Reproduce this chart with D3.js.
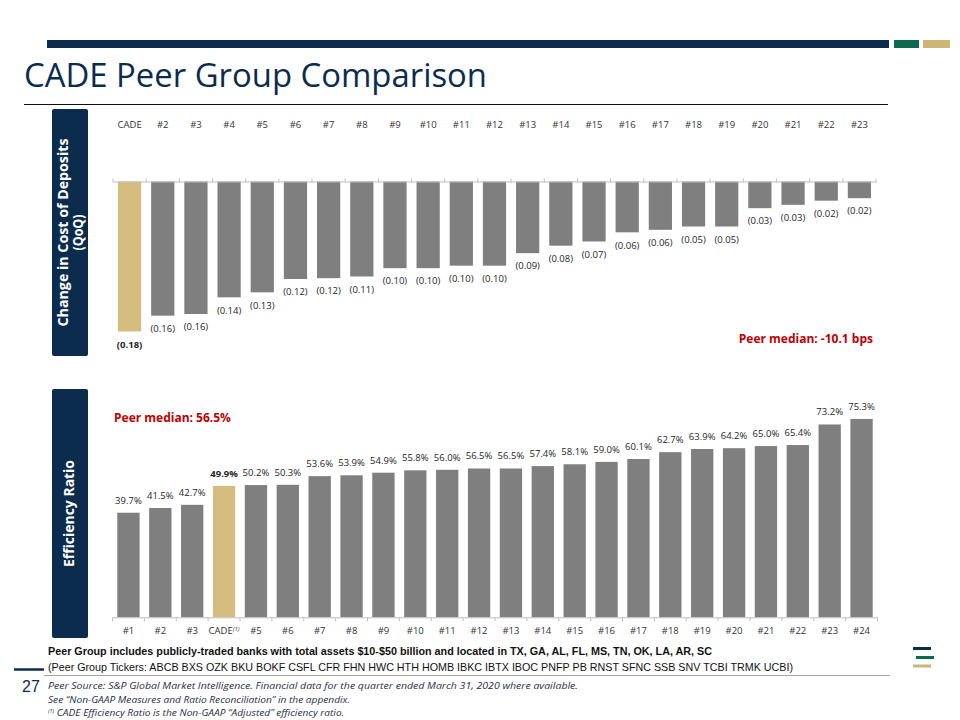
<!DOCTYPE html>
<html>
<head>
<meta charset="utf-8">
<script src="https://cdn.jsdelivr.net/npm/d3@7"></script>
<style>
  html, body { margin: 0; padding: 0; background: #fff; }
  svg { display: block; }
</style>
</head>
<body>
<svg id="chart" width="960" height="720"></svg>
<script>
// ---------- DATA ----------
const depositCategories = ["CADE","#2","#3","#4","#5","#6","#7","#8","#9","#10","#11","#12","#13","#14","#15","#16","#17","#18","#19","#20","#21","#22","#23"];
const depositValues = [-0.180,-0.161,-0.159,-0.139,-0.133,-0.117,-0.116,-0.114,-0.104,-0.104,-0.101,-0.101,-0.086,-0.077,-0.072,-0.061,-0.058,-0.054,-0.054,-0.032,-0.028,-0.023,-0.020];
const depositLabels = ["(0.18)","(0.16)","(0.16)","(0.14)","(0.13)","(0.12)","(0.12)","(0.11)","(0.10)","(0.10)","(0.10)","(0.10)","(0.09)","(0.08)","(0.07)","(0.06)","(0.06)","(0.05)","(0.05)","(0.03)","(0.03)","(0.02)","(0.02)"];

const effCategories = ["#1","#2","#3","CADE","#5","#6","#7","#8","#9","#10","#11","#12","#13","#14","#15","#16","#17","#18","#19","#20","#21","#22","#23","#24"];
const effValues = [39.7,41.5,42.7,49.9,50.2,50.3,53.6,53.9,54.9,55.8,56.0,56.5,56.5,57.4,58.1,59.0,60.1,62.7,63.9,64.2,65.0,65.4,73.2,75.3];

const highlightCategory = "CADE";
const depositMedianText = "Peer median: -10.1 bps";
const effMedianText = "Peer median: 56.5%";

// ---------- STYLE ----------
const NAVY = "#0c2c4e", GREEN = "#0b6a4f", GOLD = "#cdb673";
const BAR = "#7f7f7f", BAR_HI = "#d4bd7e", RED = "#c00000";
const FONT = "'Open Sans', 'Noto Sans', sans-serif";
const NARROW = "'Liberation Sans Narrow', 'Arial Narrow', 'Liberation Sans', sans-serif";

const svg = d3.select("#chart");

// ---------- HEADER ----------
svg.append("rect").attr("x", 47).attr("y", 40).attr("width", 842).attr("height", 8).attr("fill", NAVY);
svg.append("rect").attr("x", 894).attr("y", 40).attr("width", 25).attr("height", 8).attr("fill", GREEN);
svg.append("rect").attr("x", 923).attr("y", 40).attr("width", 27).attr("height", 8).attr("fill", GOLD);
svg.append("text").attr("x", 24).attr("y", 87).attr("font-family", FONT).attr("font-size", 33)
  .attr("fill", NAVY).attr("textLength", 463).attr("lengthAdjust", "spacingAndGlyphs")
  .text("CADE Peer Group Comparison");
svg.append("line").attr("x1", 24).attr("x2", 888).attr("y1", 104.5).attr("y2", 104.5)
  .attr("stroke", "#111").attr("stroke-width", 1);

// ---------- SIDE LABEL BOXES ----------
function sideBox(y0, y1, lines, lens, cx) {
  svg.append("rect").attr("x", 52).attr("y", y0).attr("width", 36).attr("height", y1 - y0)
    .attr("rx", 2).attr("fill", NAVY);
  const cy = (y0 + y1) / 2;
  lines.forEach((t, i) => {
    svg.append("text")
      .attr("transform", `translate(${cx[i]},${cy}) rotate(-90)`)
      .attr("text-anchor", "middle").attr("dy", "0.35em")
      .attr("font-family", FONT).attr("font-weight", 700).attr("font-size", 14)
      .attr("fill", "#fff").attr("textLength", lens[i]).attr("lengthAdjust", "spacingAndGlyphs")
      .text(t);
  });
}
sideBox(109, 356, ["Change in Cost of Deposits", "(QoQ)"], [188, 36], [63.5, 78.5]);
sideBox(389, 638, ["Efficiency Ratio"], [107], [69]);

// ---------- TOP CHART: change in cost of deposits ----------
const xDep = d3.scaleBand().domain(depositCategories).range([113, 876]).paddingInner(0.3).paddingOuter(0.15);
const yDep = d3.scaleLinear().domain([0, -0.18]).range([181.5, 331.5]);

const topG = svg.append("g");
topG.selectAll("rect.bar").data(depositCategories).join("rect")
  .attr("class", "bar")
  .attr("x", d => xDep(d)).attr("width", xDep.bandwidth())
  .attr("y", yDep(0)).attr("height", (d, i) => yDep(depositValues[i]) - yDep(0))
  .attr("fill", d => d === highlightCategory ? BAR_HI : BAR);

const topAxis = topG.append("g").attr("transform", `translate(0,${yDep(0)})`)
  .call(d3.axisTop(xDep).tickSize(0).tickFormat(""));
topAxis.select(".domain").attr("stroke", "#bfbfbf");
topG.selectAll("line.tick").data(d3.range(depositCategories.length + 1)).join("line")
  .attr("class", "tick")
  .attr("x1", i => 113 + i * xDep.step()).attr("x2", i => 113 + i * xDep.step())
  .attr("y1", yDep(0) - 3).attr("y2", yDep(0) + 1).attr("stroke", "#bfbfbf");

topG.selectAll("text.cat").data(depositCategories).join("text")
  .attr("class", "cat")
  .attr("x", d => xDep(d) + xDep.bandwidth() / 2).attr("y", 125).attr("dy", "0.35em")
  .attr("text-anchor", "middle").attr("font-family", FONT).attr("font-size", 9.5)
  .attr("fill", "#333").text(d => d);

topG.selectAll("text.val").data(depositCategories).join("text")
  .attr("class", "val")
  .attr("x", d => xDep(d) + xDep.bandwidth() / 2)
  .attr("y", (d, i) => yDep(depositValues[i]) + 13).attr("dy", "0.35em")
  .attr("text-anchor", "middle").attr("font-family", FONT).attr("font-size", 9.5)
  .attr("font-weight", d => d === highlightCategory ? 700 : 400)
  .attr("fill", "#262626").text((d, i) => depositLabels[i]);

svg.append("text").attr("x", 873).attr("y", 339).attr("dy", "0.35em").attr("text-anchor", "end")
  .attr("font-family", FONT).attr("font-weight", 700).attr("font-size", 12).attr("fill", RED)
  .text(depositMedianText);

// ---------- BOTTOM CHART: efficiency ratio ----------
const xEff = d3.scaleBand().domain(effCategories).range([112.5, 877.5]).paddingInner(0.3).paddingOuter(0.15);
const yEff = d3.scaleLinear().domain([0, 80]).range([617.3, 617.3 - 80 * 2.634]);

const botG = svg.append("g");
botG.selectAll("rect.bar").data(effCategories).join("rect")
  .attr("class", "bar")
  .attr("x", d => xEff(d)).attr("width", xEff.bandwidth())
  .attr("y", (d, i) => yEff(effValues[i])).attr("height", (d, i) => yEff(0) - yEff(effValues[i]))
  .attr("fill", d => d === highlightCategory ? BAR_HI : BAR);

const botAxis = botG.append("g").attr("transform", `translate(0,${yEff(0)})`)
  .call(d3.axisBottom(xEff).tickSize(0).tickFormat(""));
botAxis.select(".domain").attr("stroke", "#bfbfbf");
botG.selectAll("line.tick").data(d3.range(effCategories.length + 1)).join("line")
  .attr("class", "tick")
  .attr("x1", i => 112.5 + i * xEff.step()).attr("x2", i => 112.5 + i * xEff.step())
  .attr("y1", yEff(0)).attr("y2", yEff(0) + 4).attr("stroke", "#bfbfbf");

const catLabels = botG.selectAll("text.cat").data(effCategories).join("text")
  .attr("class", "cat")
  .attr("x", d => xEff(d) + xEff.bandwidth() / 2).attr("y", 631).attr("dy", "0.35em")
  .attr("text-anchor", "middle").attr("font-family", FONT).attr("font-size", 9.5)
  .attr("fill", "#333");
catLabels.each(function (d) {
  const t = d3.select(this);
  t.append("tspan").text(d);
  if (d === highlightCategory) {
    t.append("tspan").attr("font-size", 6).attr("font-style", "italic").attr("dy", "-0.6em").text("(1)");
  }
});

botG.selectAll("text.val").data(effCategories).join("text")
  .attr("class", "val")
  .attr("x", d => xEff(d) + xEff.bandwidth() / 2)
  .attr("y", (d, i) => yEff(effValues[i]) - 9)
  .attr("text-anchor", "middle").attr("font-family", FONT).attr("font-size", 9.5)
  .attr("font-weight", d => d === highlightCategory ? 700 : 400)
  .attr("fill", "#262626").text((d, i) => d3.format(".1f")(effValues[i]) + "%");

svg.append("text").attr("x", 114).attr("y", 418).attr("dy", "0.35em")
  .attr("font-family", FONT).attr("font-weight", 700).attr("font-size", 12).attr("fill", RED)
  .text(effMedianText);

// ---------- FOOTER ----------
svg.append("text").attr("x", 48).attr("y", 655).attr("font-family", NARROW).attr("font-weight", 700)
  .attr("font-size", 11.5).attr("fill", "#111").attr("textLength", 664).attr("lengthAdjust", "spacingAndGlyphs")
  .text("Peer Group includes publicly-traded banks with total assets $10-$50 billion and located in TX, GA, AL, FL, MS, TN, OK, LA, AR, SC");
svg.append("text").attr("x", 48).attr("y", 671).attr("font-family", NARROW)
  .attr("font-size", 11.5).attr("fill", "#111").attr("textLength", 745).attr("lengthAdjust", "spacingAndGlyphs")
  .text("(Peer Group Tickers: ABCB BXS OZK BKU BOKF CSFL CFR FHN HWC HTH HOMB IBKC IBTX IBOC PNFP  PB RNST SFNC SSB SNV TCBI TRMK UCBI)");

svg.append("line").attr("x1", 14).attr("x2", 44).attr("y1", 669.5).attr("y2", 669.5).attr("stroke", NAVY).attr("stroke-width", 2.5);
svg.append("line").attr("x1", 44).attr("x2", 890).attr("y1", 675.5).attr("y2", 675.5).attr("stroke", "#a6a6a6").attr("stroke-width", 1);

svg.append("text").attr("x", 22).attr("y", 692).attr("font-family", NARROW)
  .attr("font-size", 16).attr("fill", NAVY).text("27");

const notes = [
  {t: "Peer Source: S&P Global Market Intelligence.  Financial data for the quarter ended March 31, 2020 where available.", y: 689, w: 530},
  {t: "See “Non-GAAP Measures and Ratio Reconciliation” in the appendix.", y: 703, w: 302},
];
notes.forEach(n => {
  svg.append("text").attr("x", 48).attr("y", n.y).attr("font-family", FONT).attr("font-style", "italic")
    .attr("font-size", 9).attr("fill", "#1f2f45").attr("textLength", n.w).attr("lengthAdjust", "spacingAndGlyphs")
    .text(n.t);
});
const n3 = svg.append("text").attr("x", 48).attr("y", 716).attr("font-family", FONT).attr("font-style", "italic")
  .attr("font-size", 9).attr("fill", "#1f2f45");
n3.append("tspan").attr("font-size", 5.5).attr("dy", "-3").text("(1)");
n3.append("tspan").attr("dy", "3").attr("textLength", 290).attr("lengthAdjust", "spacingAndGlyphs")
  .text(" CADE Efficiency Ratio is the Non-GAAP “Adjusted” efficiency ratio.");

svg.append("rect").attr("x", 913).attr("y", 647).attr("width", 18).attr("height", 3).attr("fill", NAVY);
svg.append("rect").attr("x", 916).attr("y", 656).attr("width", 18).attr("height", 3).attr("fill", GREEN);
svg.append("rect").attr("x", 913).attr("y", 664.5).attr("width", 18).attr("height", 3).attr("fill", GOLD);
</script>
</body>
</html>
